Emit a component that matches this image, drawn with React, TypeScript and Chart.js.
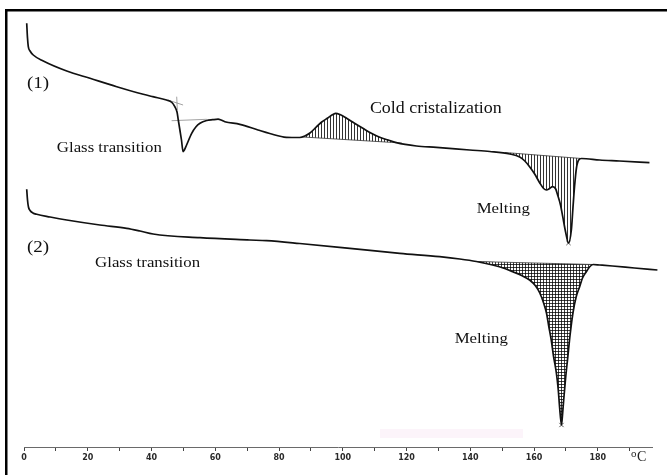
import { useEffect, useRef } from 'react';
import { Chart, registerables } from 'chart.js';

Chart.register(...registerables);

type Pt = { x: number; y: number };

// DSC traces: temperature (°C) against heat flow (arbitrary units, endotherms point down)
const sample1: Pt[] = [
  { x: 0.85, y: 423.7 }, { x: 1.1, y: 409 }, { x: 1.35, y: 400.3 }, { x: 1.9, y: 396 },
  { x: 2.9, y: 392 }, { x: 6.05, y: 386 }, { x: 13.4, y: 376 }, { x: 20.7, y: 368.7 },
  { x: 29.1, y: 360.3 }, { x: 37.4, y: 352.7 }, { x: 40.4, y: 350.3 }, { x: 44.7, y: 347 },
  { x: 46.4, y: 344.5 }, { x: 47.3, y: 340.3 }, { x: 48.0, y: 335 }, { x: 48.4, y: 327 },
  { x: 48.9, y: 317 }, { x: 49.4, y: 307 }, { x: 49.9, y: 295.3 }, { x: 50.3, y: 297 },
  { x: 51.0, y: 302 }, { x: 52.6, y: 313.7 }, { x: 53.9, y: 320 }, { x: 55.2, y: 323.7 },
  { x: 57.3, y: 326.5 }, { x: 59.2, y: 327.3 }, { x: 60.9, y: 327.8 }, { x: 61.8, y: 327 },
  { x: 63.0, y: 325.3 }, { x: 67.7, y: 322.7 }, { x: 73.4, y: 317 }, { x: 77.1, y: 313.5 },
  { x: 82.3, y: 309.7 }, { x: 86.5, y: 309.5 }, { x: 88.1, y: 311 }, { x: 89.7, y: 314 },
  { x: 91.8, y: 320.3 }, { x: 93.4, y: 325 }, { x: 95.3, y: 329 }, { x: 96.9, y: 332.5 },
  { x: 97.8, y: 333.7 }, { x: 99.1, y: 332.5 }, { x: 101.2, y: 328.7 }, { x: 103.8, y: 323.5 },
  { x: 106.3, y: 318.7 }, { x: 108.8, y: 314 }, { x: 111.6, y: 309.7 }, { x: 114.7, y: 306.5 },
  { x: 116.8, y: 304.3 }, { x: 123.1, y: 301 }, { x: 129.4, y: 299.7 }, { x: 139.8, y: 297 },
  { x: 146.1, y: 295.5 }, { x: 152.4, y: 293 }, { x: 155.5, y: 290 }, { x: 157.1, y: 286 },
  { x: 158.6, y: 280.3 }, { x: 160.2, y: 273 }, { x: 161.8, y: 264 }, { x: 163.0, y: 258.5 },
  { x: 163.9, y: 257 }, { x: 164.9, y: 258.5 }, { x: 165.8, y: 260.3 }, { x: 166.8, y: 258 },
  { x: 167.4, y: 252 }, { x: 168.3, y: 242 }, { x: 169.0, y: 230.3 }, { x: 169.9, y: 215 },
  { x: 170.8, y: 204 }, { x: 171.7, y: 217 }, { x: 172.2, y: 239 }, { x: 172.7, y: 260.3 },
  { x: 173.3, y: 279 }, { x: 174.0, y: 287 }, { x: 174.9, y: 288.5 }, { x: 180.6, y: 287 },
  { x: 186.8, y: 286 }, { x: 196.2, y: 284.3 },
];

const sample2: Pt[] = [
  { x: 0.85, y: 257.7 }, { x: 1.1, y: 247 }, { x: 1.4, y: 240 }, { x: 1.9, y: 236.5 },
  { x: 2.8, y: 234 }, { x: 4.0, y: 232.7 }, { x: 8.2, y: 230 }, { x: 13.4, y: 227 },
  { x: 23.8, y: 222 }, { x: 32.2, y: 218.7 }, { x: 36.4, y: 216 }, { x: 40.5, y: 213 },
  { x: 55.2, y: 209.3 }, { x: 70.8, y: 207 }, { x: 76.1, y: 206.3 }, { x: 86.5, y: 203.5 },
  { x: 102.2, y: 198.7 }, { x: 117.9, y: 193.7 }, { x: 130.4, y: 190.3 }, { x: 136.7, y: 188 },
  { x: 141.9, y: 185.5 }, { x: 147.0, y: 182 }, { x: 150.8, y: 178.5 }, { x: 153.3, y: 175.3 },
  { x: 156.1, y: 171.5 }, { x: 158.6, y: 167 }, { x: 160.5, y: 161 }, { x: 161.8, y: 154 },
  { x: 163.0, y: 144 }, { x: 163.9, y: 134 }, { x: 164.6, y: 121 }, { x: 165.4, y: 107 },
  { x: 166.1, y: 91 }, { x: 167.0, y: 74 }, { x: 167.6, y: 57 }, { x: 168.0, y: 40.3 },
  { x: 168.6, y: 22 }, { x: 169.0, y: 35 }, { x: 169.3, y: 47 }, { x: 169.9, y: 69 },
  { x: 170.6, y: 90.3 }, { x: 171.3, y: 112 }, { x: 172.2, y: 134 }, { x: 173.2, y: 150 },
  { x: 174.3, y: 160.3 }, { x: 175.2, y: 169 }, { x: 176.4, y: 175.3 }, { x: 177.4, y: 180 },
  { x: 178.5, y: 182.5 }, { x: 180.6, y: 182 }, { x: 184.6, y: 181 }, { x: 191.5, y: 179 },
  { x: 198.7, y: 177 },
];

// Integration baselines under the peaks
const crystBaseline1: Pt[] = [{ x: 87.5, y: 310 }, { x: 118.5, y: 304 }];
const meltBaseline1: Pt[] = [{ x: 150.8, y: 294.5 }, { x: 174.9, y: 288.5 }];
const meltBaseline2: Pt[] = [{ x: 141.9, y: 185.5 }, { x: 178.5, y: 182.5 }];

// Tangent construction at the glass transition of sample (1)
const tgTangent: Pt[] = [{ x: 45.8, y: 346.3 }, { x: 49.9, y: 342 }];
const tgMark: Pt[] = [{ x: 47.9, y: 350.3 }, { x: 48.1, y: 337 }];
const tgBaseline: Pt[] = [{ x: 46.3, y: 326.3 }, { x: 57.3, y: 327.7 }];

const tickLabels = [0, 20, 40, 60, 80, 100, 120, 140, 160, 180];

const annotations = [
  { text: '(1)', x: 0.94, y: 359.5, size: 17 },
  { text: 'Glass transition', x: 10.3, y: 295.5, size: 15 },
  { text: 'Cold cristalization', x: 108.5, y: 334.5, size: 16 },
  { text: 'Melting', x: 142.0, y: 234.5, size: 15 },
  { text: '(2)', x: 0.94, y: 195, size: 17 },
  { text: 'Glass transition', x: 22.3, y: 180, size: 15 },
  { text: 'Melting', x: 135.1, y: 104.3, size: 15 },
];

const within = (pts: Pt[], base: Pt[]) =>
  pts.filter((p) => p.x >= base[0].x && p.x <= base[base.length - 1].x);

const lowest = (pts: Pt[], from: number) =>
  pts.filter((p) => p.x >= from).reduce((a, b) => (b.y < a.y ? b : a));

function hatch(ctx: CanvasRenderingContext2D, step: number, cross: boolean, color: string) {
  const tile = document.createElement('canvas');
  tile.width = step;
  tile.height = step;
  const g = tile.getContext('2d')!;
  g.fillStyle = color;
  g.fillRect(0, 0, 1, step);
  if (cross) g.fillRect(0, 0, step, 1);
  return ctx.createPattern(tile, 'repeat')!;
}

const decorations = {
  id: 'decorations',
  beforeDraw(chart: any) {
    const { ctx, width, height } = chart;
    ctx.save();
    ctx.fillStyle = '#ffffff';
    ctx.fillRect(0, 0, width, height);
    ctx.fillStyle = '#fcf4fa';
    ctx.fillRect(380, 429, 143, 9);
    ctx.restore();
  },
  afterDraw(chart: any) {
    const { ctx, scales, chartArea } = chart;
    const sx = scales.x;
    const sy = scales.y;
    ctx.save();
    ctx.fillStyle = '#111';
    ctx.textBaseline = 'alphabetic';
    for (const a of annotations) {
      ctx.save();
      ctx.font = `${a.size}px "Liberation Serif", "Times New Roman", serif`;
      ctx.translate(sx.getPixelForValue(a.x), sy.getPixelForValue(a.y));
      ctx.scale(1.12, 1);
      ctx.fillText(a.text, 0, 0);
      ctx.restore();
    }
    // unit of the temperature axis
    ctx.fillStyle = '#222';
    ctx.font = '11px "Liberation Serif", serif';
    ctx.fillText('o', chartArea.right - 21, chartArea.bottom + 10);
    ctx.font = '14px "Liberation Serif", serif';
    ctx.fillText('C', chartArea.right - 15, chartArea.bottom + 14);
    // frame
    ctx.fillStyle = '#000';
    ctx.fillRect(5, 9, 2.5, chart.height - 9);
    ctx.fillRect(5, 9, chart.width - 5, 2.5);
    ctx.restore();
  },
};

export default function App() {
  const ref = useRef<HTMLCanvasElement>(null);

  useEffect(() => {
    const canvas = ref.current!;
    const ctx = canvas.getContext('2d')!;
    const vLines = hatch(ctx, 3, false, 'rgba(0,0,0,0.8)');
    const grid = hatch(ctx, 3, true, 'rgba(0,0,0,0.75)');
    const curve = { borderColor: '#111', borderWidth: 1.7, cubicInterpolationMode: 'monotone', clip: false, fill: false };
    const thin = { borderColor: '#8a8a8a', borderWidth: 0.8, fill: false };

    const chart = new Chart(canvas, {
      type: 'line',
      data: {
        datasets: [
          { label: '(1)', data: sample1, ...curve },
          { label: '(2)', data: sample2, ...curve },
          {
            label: 'peak',
            data: [lowest(sample1, 140), lowest(sample2, 140)],
            showLine: false,
            pointStyle: 'crossRot',
            pointRadius: 3,
            borderColor: '#555',
            borderWidth: 1,
            clip: false,
          },
          { label: 'tg tangent', data: tgTangent, ...thin },
          { label: 'tg mark', data: tgMark, ...thin },
          { label: 'tg baseline', data: tgBaseline, ...thin },
          { label: 'cryst base', data: crystBaseline1, borderColor: '#333', borderWidth: 0.8, fill: false },
          { label: 'melt base 1', data: meltBaseline1, borderColor: '#333', borderWidth: 0.8, fill: false },
          { label: 'melt base 2', data: meltBaseline2, borderColor: '#333', borderWidth: 0.8, fill: false },
          {
            label: 'cryst area',
            data: within(sample1, crystBaseline1),
            borderWidth: 0,
            cubicInterpolationMode: 'monotone',
            backgroundColor: vLines,
            fill: { target: 6 },
          },
          {
            label: 'melt area 1',
            data: within(sample1, meltBaseline1),
            borderWidth: 0,
            cubicInterpolationMode: 'monotone',
            backgroundColor: vLines,
            fill: { target: 7 },
          },
          {
            label: 'melt area 2',
            data: within(sample2, meltBaseline2),
            borderWidth: 0,
            cubicInterpolationMode: 'monotone',
            backgroundColor: grid,
            fill: { target: 8 },
          },
        ] as any,
      },
      options: {
        animation: false,
        responsive: false,
        events: [],
        layout: { padding: { left: 24, right: 15, top: 12, bottom: 0 } },
        elements: { point: { radius: 0 } },
        plugins: { legend: { display: false }, tooltip: { enabled: false } },
        scales: {
          x: {
            type: 'linear',
            min: 0,
            max: 197,
            afterFit: (s: any) => {
              s.height = 28;
            },
            border: { display: true, color: '#6a6a6a', width: 1 },
            grid: { drawOnChartArea: false, drawTicks: true, tickLength: 4, color: '#444' },
            ticks: {
              stepSize: 10,
              autoSkip: false,
              maxRotation: 0,
              includeBounds: false,
              padding: 2,
              color: '#2a2a2a',
              font: { family: 'DejaVu Sans', size: 8, weight: 'bold' },
              callback: (v: any) => (tickLabels.includes(Number(v)) ? String(v) : ''),
            },
          },
          y: { display: false, min: 0, max: 435 },
        },
      } as any,
      plugins: [decorations],
    });
    return () => chart.destroy();
  }, []);

  return (
    <div style={{ position: 'fixed', left: 0, top: 0, width: 667, height: 475 }}>
      <canvas ref={ref} width={667} height={475} style={{ display: 'block', width: 667, height: 475 }} />
    </div>
  );
}
